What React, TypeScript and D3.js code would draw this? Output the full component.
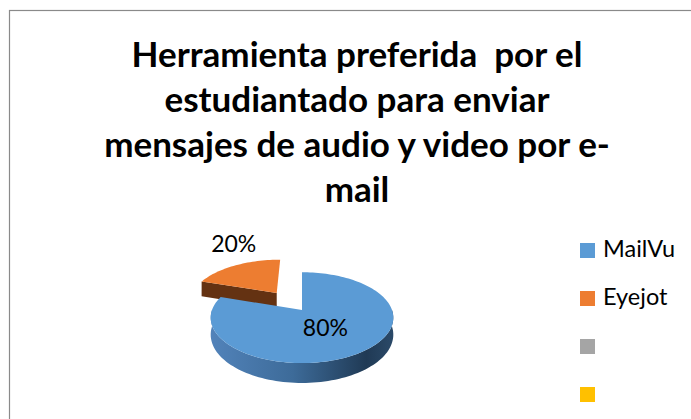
import React from 'react';
import * as d3 from 'd3';

const categories: string[] = ['MailVu', 'Eyejot', '', ''];
const values: number[] = [80, 20, 0, 0];
const percentLabels: string[] = ['80%', '20%'];
const titleLines: string[] = [
  'Herramienta preferida  por el',
  'estudiantado para enviar',
  'mensajes de audio y video por e-',
  'mail',
];
const topColors: string[] = ['#5b9bd5', '#ed7d31', '#a5a5a5', '#ffc000'];
const sideColors: string[] = ['#3a6794', '#643212', '#666666', '#9e7700'];
const explodeDist: number[] = [0, 46, 0, 0];

const W = 691;
const H = 419;
const CX = 302;
const CY = 310;
const R = 90;
const SIN = 0.49;
const COS = 0.87;
const DIST = 464;
const DEPTH = 19;
const FONT = 'Lato, "Open Sans", "DejaVu Sans", sans-serif';

function proj(X: number, Z: number, Y: number): [number, number] {
  const s = DIST / (DIST - Z * COS);
  return [CX + X * s, CY + (Z * SIN - Y * COS) * s];
}

function rimPoint(a: number, r: number, ox: number, oz: number, y: number) {
  return proj(ox + r * Math.sin(a), oz - r * Math.cos(a), y);
}

function arcPts(a0: number, a1: number, ox: number, oz: number, y: number) {
  const n = Math.max(2, Math.ceil(((a1 - a0) / (2 * Math.PI)) * 180));
  const pts: [number, number][] = [];
  for (let i = 0; i <= n; i++) {
    const a = a0 + ((a1 - a0) * i) / n;
    pts.push(rimPoint(a, R, ox, oz, y));
  }
  return pts;
}

const line = d3.line<[number, number]>();

export default function App() {
  const pieGen = d3
    .pie<number>()
    .sort(null)
    .startAngle(0)
    .endAngle(2 * Math.PI);
  const arcs = pieGen(values);

  const slices = arcs
    .map((a, i) => ({ a, i }))
    .filter((d) => d.a.value > 0)
    .map(({ a, i }) => {
      const mid = (a.startAngle + a.endAngle) / 2;
      const ox = explodeDist[i] * Math.sin(mid);
      const oz = -explodeDist[i] * Math.cos(mid);
      const a0 = a.startAngle;
      const a1 = a.endAngle;
      const c0 = proj(ox, oz, 0);
      const c1 = proj(ox, oz, -DEPTH);
      const top = line([c0, ...arcPts(a0, a1, ox, oz, 0)])! + 'Z';
      const w0 = Math.max(a0, Math.PI / 2);
      const w1 = Math.min(a1, (3 * Math.PI) / 2);
      let wall: string | null = null;
      if (w1 > w0) {
        const t = arcPts(w0, w1, ox, oz, 0);
        const b = arcPts(w0, w1, ox, oz, -DEPTH).reverse();
        wall = line([...t, ...b])! + 'Z';
      }
      const faces: string[] = [];
      if (-Math.cos(a0 - Math.PI / 2) > 0.01) {
        const p = rimPoint(a0, R, ox, oz, 0);
        const q = rimPoint(a0, R, ox, oz, -DEPTH);
        faces.push(line([c0, p, q, c1])! + 'Z');
      }
      if (-Math.cos(a1 + Math.PI / 2) > 0.01) {
        const p = rimPoint(a1, R, ox, oz, 0);
        const q = rimPoint(a1, R, ox, oz, -DEPTH);
        faces.push(line([c0, p, q, c1])! + 'Z');
      }
      const behind = -Math.cos(mid) < 0 && explodeDist[i] > 0;
      return { i, mid, ox, oz, top, wall, faces, behind };
    });

  const ordered = [...slices].sort((p, q) => (p.behind === q.behind ? 0 : p.behind ? -1 : 1));

  const labelEls = slices.map((s) => {
    if (s.i === 0) {
      const [x, y] = rimPoint(s.mid, R * 0.45, s.ox, s.oz, 0);
      return (
        <text key={'l' + s.i} x={x - 2} y={y + 9} textAnchor="middle" fontFamily={FONT} fontSize={23} fill="#000">
          {percentLabels[s.i]}
        </text>
      );
    }
    const [x, y] = rimPoint(s.mid, R, s.ox, s.oz, 0);
    return (
      <text key={'l' + s.i} x={x - 2} y={y - 13} textAnchor="middle" fontFamily={FONT} fontSize={23} fill="#000">
        {percentLabels[s.i]}
      </text>
    );
  });

  return (
    <div style={{ position: 'absolute', left: 0, top: 0, width: W, height: H, overflow: 'hidden' }}>
      <svg width={W} height={H} viewBox={`0 0 ${W} ${H}`} style={{ display: 'block', background: '#fff' }}>
        <defs>
          <linearGradient id="blueSide" gradientUnits="userSpaceOnUse" x1={CX - R - 2} y1={0} x2={CX + R + 2} y2={0}>
            <stop offset="0%" stopColor="#5283ba" />
            <stop offset="45%" stopColor="#3d6b99" />
            <stop offset="85%" stopColor="#203a55" />
            <stop offset="100%" stopColor="#2b4a69" />
          </linearGradient>
        </defs>
        <rect x={9.5} y={10.5} width={W + 20} height={H + 20} fill="#fff" stroke="#8a8a8a" strokeWidth={1.2} />
        {titleLines.map((t, i) => (
          <text
            key={'t' + i}
            x={357}
            y={67 + i * 45}
            textAnchor="middle"
            fontFamily={FONT}
            fontWeight={700}
            fontSize={35}
            fill="#000"
            style={{ whiteSpace: 'pre' }}
          >
            {t}
          </text>
        ))}
        {ordered.map((s) => (
          <g key={'s' + s.i}>
            {s.wall && <path d={s.wall} fill={s.i === 0 ? 'url(#blueSide)' : sideColors[s.i]} />}
            {s.faces.map((f, k) => (
              <path key={k} d={f} fill={sideColors[s.i]} />
            ))}
            <path d={s.top} fill={topColors[s.i]} />
          </g>
        ))}
        {labelEls}
        {categories.map((c, i) => (
          <g key={'g' + i}>
            <rect x={580} y={243 + i * 48} width={15} height={15} fill={topColors[i]} />
            <text x={603} y={257 + i * 48} fontFamily={FONT} fontSize={23.5} fill="#000">
              {c}
            </text>
          </g>
        ))}
      </svg>
    </div>
  );
}
